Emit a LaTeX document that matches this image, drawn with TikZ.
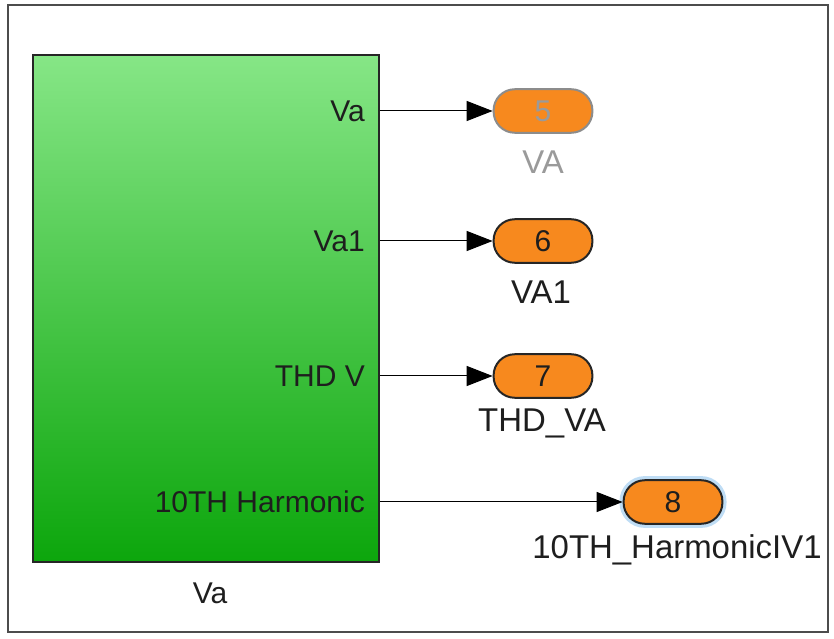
\documentclass[tikz,border=0pt]{standalone}
\usepackage{fontspec}
\setmainfont{Liberation Sans}
\usetikzlibrary{arrows.meta}
\definecolor{portorange}{HTML}{F7891E}
\definecolor{greentop}{HTML}{86E686}
\definecolor{greenbot}{HTML}{0CA60C}
\definecolor{textdark}{HTML}{1E1E1E}
\definecolor{dimmed}{HTML}{9A9A9A}
\definecolor{glow}{HTML}{BFDDF5}
\begin{document}
\begin{tikzpicture}[x=0.85pt, y=-0.85pt,
  every node/.style={font=\fontsize{25.5}{30}\selectfont, text=textdark},
  outname/.style={font=\fontsize{28}{33}\selectfont},
  outport/.style={draw=black!85, line width=1.7pt, fill=portorange, rounded corners=18pt,
    minimum width=84pt, minimum height=37pt, inner sep=0pt},
  sig/.style={line width=0.85pt, -{Triangle[length=22pt,width=17pt]}}]
\useasboundingbox (0,0) rectangle (834,639);
% frame
\draw[line width=1.7pt, draw=black!70] (8,5) rectangle (828,632);
% subsystem block
\node[draw=black!85, line width=1.7pt, top color=greentop, bottom color=greenbot,
  minimum width=294pt, minimum height=431pt, inner sep=0pt] (blk) at (206,308.5) {};
\node at (210,593) (blkname) {Va};
% port labels
\node[anchor=east] (pva) at (369,111) {Va};
\node[anchor=east] (pva1) at (369,241) {Va1};
\node[anchor=east] (pthd) at (369,376) {THD V};
\node[anchor=east] (pharm) at (369,502) {10TH Harmonic};
% outports
\node[outport, draw=black!45, text=dimmed] (out5) at (543,111) {5};
\node[outport] (out6) at (543,241) {6};
\node[outport] (out7) at (543,376) {7};
\node[outport, preaction={draw=glow, line width=7pt}] (out8) at (673,502) {8};
\node[outname, text=dimmed] (nva) at (543,162) {VA};
\node[outname] (nva1) at (541,292) {VA1};
\node[outname] (nthd) at (542,423) {THD\_VA};
\node[outname] (nharm) at (677,550) {10TH\_HarmonicIV1};
% signals
\draw[sig] (pva.east -| blk.east) -- (out5);
\draw[sig] (pva1.east -| blk.east) -- (out6);
\draw[sig] (pthd.east -| blk.east) -- (out7);
\draw[sig] (pharm.east -| blk.east) -- (out8);
\end{tikzpicture}
\end{document}
